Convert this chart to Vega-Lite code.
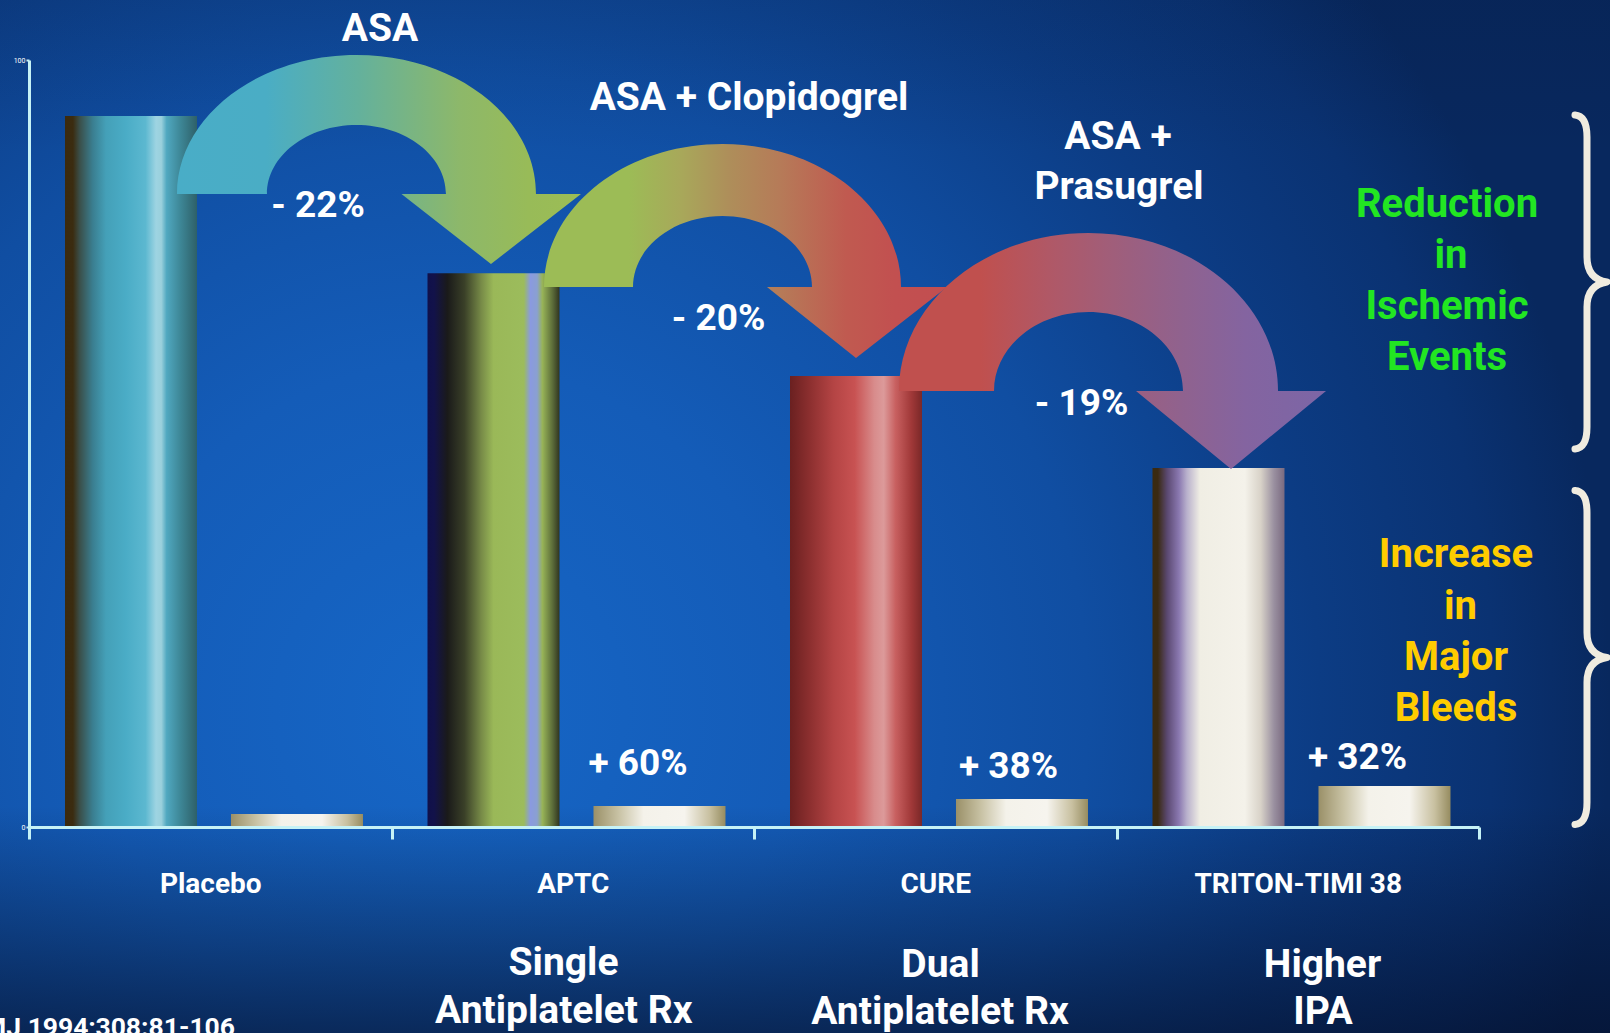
{
  "$schema": "https://vega.github.io/schema/vega-lite/v6.json",
  "width": 1610,
  "height": 1033,
  "autosize": "none",
  "padding": 0,
  "background": "#0c3d88",
  "config": {
    "view": {"stroke": null},
    "font": "Roboto, Liberation Sans, sans-serif"
  },
  "datasets": {
    "trials": [
      {"study": "Placebo", "type": "Ischemic", "value": 92.7},
      {"study": "Placebo", "type": "Bleeding", "value": 1.7},
      {"study": "APTC", "type": "Ischemic", "value": 72.2},
      {"study": "APTC", "type": "Bleeding", "value": 2.74},
      {"study": "CURE", "type": "Ischemic", "value": 58.8},
      {"study": "CURE", "type": "Bleeding", "value": 3.65},
      {"study": "TRITON-TIMI 38", "type": "Ischemic", "value": 46.8},
      {"study": "TRITON-TIMI 38", "type": "Bleeding", "value": 5.35}
    ],
    "notes": [
      {"kind": "arrow1", "label": "ASA", "u": 0.9034, "v": 82.53},
      {"kind": "arrow2", "label": "ASA + Clopidogrel", "u": 1.9131, "v": 70.40},
      {"kind": "arrow3", "label": "ASA + Prasugrel", "u": 2.9228, "v": 56.85},
      {"kind": "brace", "label": "ischemic", "u": 4.2979, "v": 71.06},
      {"kind": "brace", "label": "bleeding", "u": 4.2979, "v": 22.10},
      {"kind": "title", "label": "ASA", "u": 0.9683, "v": 102.48},
      {"kind": "title", "label": "ASA  + Clopidogrel", "u": 1.9862, "v": 93.48},
      {"kind": "title", "label": "ASA +", "u": 3.0041, "v": 88.40},
      {"kind": "title", "label": "Prasugrel", "u": 3.0069, "v": 81.88},
      {"kind": "title", "label": "Single", "u": 1.4745, "v": -19.30},
      {"kind": "title", "label": "Antiplatelet Rx", "u": 1.4752, "v": -25.55},
      {"kind": "title", "label": "Dual", "u": 2.5145, "v": -19.56},
      {"kind": "title", "label": "Antiplatelet Rx", "u": 2.5131, "v": -25.72},
      {"kind": "title", "label": "Higher", "u": 3.5683, "v": -19.56},
      {"kind": "title", "label": "IPA", "u": 3.5697, "v": -25.72},
      {"kind": "pct", "label": "- 22%", "u": 0.7972, "v": 79.53},
      {"kind": "pct", "label": "- 20%", "u": 1.9021, "v": 64.80},
      {"kind": "pct", "label": "- 19%", "u": 2.9034, "v": 53.72},
      {"kind": "pct", "label": "+ 60%", "u": 1.68, "v": 6.78},
      {"kind": "pct", "label": "+ 38%", "u": 2.702, "v": 6.39},
      {"kind": "pct", "label": "+ 32%", "u": 3.6648, "v": 7.56},
      {"kind": "green", "label": "Reduction", "u": 3.9117, "v": 79.53},
      {"kind": "green", "label": "in", "u": 3.9228, "v": 72.88},
      {"kind": "green", "label": "Ischemic", "u": 3.9117, "v": 66.23},
      {"kind": "green", "label": "Events", "u": 3.9117, "v": 59.58},
      {"kind": "gold", "label": "Increase", "u": 3.9366, "v": 33.90},
      {"kind": "gold", "label": "in", "u": 3.9490, "v": 27.18},
      {"kind": "gold", "label": "Major", "u": 3.9366, "v": 20.47},
      {"kind": "gold", "label": "Bleeds", "u": 3.9366, "v": 13.82},
      {"kind": "cite", "label": "BMJ 1994;308:81-106", "u": 0.5683, "v": -27.25}
    ]
  },
  "layer": [
    {
      "data": {"values": [{"id": 1}]},
      "layer": [
        {
          "mark": {"type": "rect", "fill": {"gradient": "radial", "x1": 0.28, "y1": 0.62, "r1": 0, "x2": 0.28, "y2": 0.62, "r2": 0.72,
            "stops": [
              {"offset": 0, "color": "#1666c6"},
              {"offset": 0.3, "color": "#145cb8"},
              {"offset": 0.55, "color": "#104ea2"},
              {"offset": 0.75, "color": "#0c3c84"},
              {"offset": 0.9, "color": "#0a3272"},
              {"offset": 1, "color": "#08285e"}
            ]}},
          "encoding": {}
        },
        {
          "mark": {"type": "rect", "fill": {"gradient": "linear", "x1": 0, "y1": 0, "x2": 0, "y2": 1,
            "stops": [
              {"offset": 0, "color": "rgba(4,14,40,0.1)"},
              {"offset": 0.15, "color": "rgba(4,14,40,0)"},
              {"offset": 0.78, "color": "rgba(4,14,40,0)"},
              {"offset": 0.9, "color": "rgba(4,14,40,0.35)"},
              {"offset": 1, "color": "rgba(4,14,40,0.65)"}
            ]}},
          "encoding": {}
        }
      ]
    },
    {
      "data": {"name": "trials"},
      "encoding": {
        "x": {
          "field": "study", "type": "nominal",
          "scale": {"domain": ["Placebo", "APTC", "CURE", "TRITON-TIMI 38"], "range": [29, 1479], "paddingInner": 0, "paddingOuter": 0},
          "axis": {
            "title": null, "offset": -206, "domainColor": "#c6f2f6", "domainWidth": 3,
            "tickColor": "#c6f2f6", "tickWidth": 3, "tickSize": 12, "tickBand": "extent",
            "labelColor": "white", "labelFontSize": 28, "labelFontWeight": "bold", "labelLimit": 0,
            "labelBaseline": "alphabetic", "labelPadding": 53, "labelAngle": 0, "zindex": 1
          }
        },
        "xOffset": {
          "field": "type", "type": "nominal",
          "scale": {"domain": ["Ischemic", "Bleeding"], "paddingInner": 0.2048, "paddingOuter": 0.1943, "align": 0.558}
        },
        "y": {
          "field": "value", "type": "quantitative",
          "scale": {"domain": [0, 100], "range": [827, 60], "nice": false, "zero": true},
          "axis": {
            "title": null, "values": [0, 100], "offset": -29, "domainColor": "#c6f2f6", "domainWidth": 3,
            "tickColor": "#c6f2f6", "tickWidth": 2, "tickSize": 3, "labelColor": "white",
            "labelFontSize": 7, "labelPadding": 1, "grid": false, "zindex": 1
          }
        }
      },
      "layer": [
        {
          "transform": [{"filter": "datum.study == 'Placebo' && datum.type == 'Ischemic'"}],
          "mark": {"type": "bar", "color": {"gradient": "linear", "x1": 0, "y1": 0, "x2": 1, "y2": 0, "stops": [
            {"offset": 0, "color": "#3b2a0e"}, {"offset": 0.06, "color": "#3b2c10"}, {"offset": 0.11, "color": "#3a4e48"},
            {"offset": 0.21, "color": "#3a7e90"}, {"offset": 0.31, "color": "#44a0b8"}, {"offset": 0.46, "color": "#4aacc6"},
            {"offset": 0.61, "color": "#5cb8d0"}, {"offset": 0.69, "color": "#9ed4e2"}, {"offset": 0.73, "color": "#9ad0dc"},
            {"offset": 0.77, "color": "#50a8c0"}, {"offset": 0.87, "color": "#3e8898"}, {"offset": 1, "color": "#2e6068"}]}}
        },
        {
          "transform": [{"filter": "datum.study == 'APTC' && datum.type == 'Ischemic'"}],
          "mark": {"type": "bar", "color": {"gradient": "linear", "x1": 0, "y1": 0, "x2": 1, "y2": 0, "stops": [
            {"offset": 0, "color": "#10104a"}, {"offset": 0.05, "color": "#12124a"}, {"offset": 0.15, "color": "#1a1a1a"},
            {"offset": 0.28, "color": "#3a4028"}, {"offset": 0.41, "color": "#788c48"}, {"offset": 0.5, "color": "#9ab858"},
            {"offset": 0.73, "color": "#9cbc5c"}, {"offset": 0.78, "color": "#8a9ae0"}, {"offset": 0.83, "color": "#8aa0d0"},
            {"offset": 0.87, "color": "#98b458"}, {"offset": 0.95, "color": "#5a6a38"}, {"offset": 1, "color": "#303420"}]}}
        },
        {
          "transform": [{"filter": "datum.study == 'CURE' && datum.type == 'Ischemic'"}],
          "mark": {"type": "bar", "color": {"gradient": "linear", "x1": 0, "y1": 0, "x2": 1, "y2": 0, "stops": [
            {"offset": 0, "color": "#6a2020"}, {"offset": 0.14, "color": "#8a2e2e"}, {"offset": 0.33, "color": "#b44444"},
            {"offset": 0.49, "color": "#c85252"}, {"offset": 0.64, "color": "#d88c8c"}, {"offset": 0.71, "color": "#dc9a9a"},
            {"offset": 0.8, "color": "#c86060"}, {"offset": 0.92, "color": "#a03838"}, {"offset": 1, "color": "#7a2828"}]}}
        },
        {
          "transform": [{"filter": "datum.study == 'TRITON-TIMI 38' && datum.type == 'Ischemic'"}],
          "mark": {"type": "bar", "color": {"gradient": "linear", "x1": 0, "y1": 0, "x2": 1, "y2": 0, "stops": [
            {"offset": 0, "color": "#3a2a10"}, {"offset": 0.04, "color": "#3a2a12"}, {"offset": 0.11, "color": "#5a4870"},
            {"offset": 0.2, "color": "#8a78b0"}, {"offset": 0.26, "color": "#b8b0cc"}, {"offset": 0.36, "color": "#f0eee4"},
            {"offset": 0.7, "color": "#f4f2ea"}, {"offset": 0.82, "color": "#d8d2c8"}, {"offset": 0.92, "color": "#9a90a0"},
            {"offset": 1, "color": "#7a6a80"}]}}
        },
        {
          "transform": [{"filter": "datum.type == 'Bleeding'"}],
          "mark": {"type": "bar", "color": {"gradient": "linear", "x1": 0, "y1": 0, "x2": 1, "y2": 0, "stops": [
            {"offset": 0, "color": "#9a9068"}, {"offset": 0.19, "color": "#c8c2a4"}, {"offset": 0.38, "color": "#f4f2ea"},
            {"offset": 0.69, "color": "#f6f4ee"}, {"offset": 0.88, "color": "#c8c0a0"}, {"offset": 1, "color": "#968c60"}]}}
        }
      ]
    },
    {
      "data": {"name": "notes"},
      "encoding": {
        "x": {"field": "u", "type": "quantitative", "scale": {"domain": [0, 4], "range": [29, 1479], "nice": false, "zero": false}, "axis": null},
        "y": {"field": "v", "type": "quantitative", "scale": {"domain": [0, 100], "range": [827, 60], "nice": false, "zero": true}, "axis": null}
      },
      "layer": [
        {
          "transform": [{"filter": "datum.kind == 'arrow1'"}],
          "mark": {"type": "point", "size": 4, "filled": true, "opacity": 1, "strokeWidth": 0,
            "shape": "M -179.5 0 A 179.5 139 0 0 1 179.5 0 L 224.5 0 L 134.5 70 L 45 0 L 89.5 0 A 89.5 69 0 0 0 -89.5 0 Z",
            "fill": {"gradient": "linear", "x1": 0, "y1": 0, "x2": 1, "y2": 0, "stops": [
              {"offset": 0, "color": "#49adc7"}, {"offset": 0.22, "color": "#4aadc5"}, {"offset": 0.45, "color": "#64b19c"},
              {"offset": 0.7, "color": "#8db86a"}, {"offset": 0.87, "color": "#98bb58"}, {"offset": 1, "color": "#9cbd55"}]}}
        },
        {
          "transform": [{"filter": "datum.kind == 'arrow2'"}],
          "mark": {"type": "point", "size": 4, "filled": true, "opacity": 1, "strokeWidth": 0,
            "shape": "M -178.5 0 A 178.5 143 0 0 1 178.5 0 L 224.5 0 L 133.5 71 L 44.5 0 L 89.5 0 A 89.5 71 0 0 0 -89.5 0 Z",
            "fill": {"gradient": "linear", "x1": 0, "y1": 0, "x2": 1, "y2": 0, "stops": [
              {"offset": 0, "color": "#9cbc56"}, {"offset": 0.21, "color": "#9cbc56"}, {"offset": 0.34, "color": "#a8a85a"},
              {"offset": 0.46, "color": "#ae8e5a"}, {"offset": 0.59, "color": "#b67a58"}, {"offset": 0.75, "color": "#c05a50"},
              {"offset": 0.87, "color": "#c25050"}, {"offset": 1, "color": "#c24e50"}]}}
        },
        {
          "transform": [{"filter": "datum.kind == 'arrow3'"}],
          "mark": {"type": "point", "size": 4, "filled": true, "opacity": 1, "strokeWidth": 0,
            "shape": "M -189.5 0 A 189.5 158 0 0 1 189.5 0 L 237.5 0 L 142.5 78 L 47.5 0 L 94.5 0 A 94.5 79 0 0 0 -94.5 0 Z",
            "fill": {"gradient": "linear", "x1": 0, "y1": 0, "x2": 1, "y2": 0, "stops": [
              {"offset": 0, "color": "#c0504e"}, {"offset": 0.19, "color": "#c0504e"}, {"offset": 0.35, "color": "#b05866"},
              {"offset": 0.5, "color": "#a05e7a"}, {"offset": 0.66, "color": "#90628e"}, {"offset": 0.81, "color": "#8464a0"},
              {"offset": 1, "color": "#7c66a6"}]}}
        },
        {
          "transform": [{"filter": "datum.kind == 'brace'"}],
          "mark": {"type": "point", "size": 4, "filled": false, "opacity": 1, "stroke": "#f0ece0", "strokeWidth": 7,
            "strokeCap": "round", "strokeJoin": "round",
            "shape": "M -12 -167 Q 0 -166 0 -145 L 0 -25 Q 0 -3 20 0 Q 0 3 0 25 L 0 145 Q 0 166 -12 167"}
        },
        {
          "transform": [{"filter": "datum.kind == 'title'"}],
          "mark": {"type": "text", "color": "white", "fontSize": 39, "fontWeight": "bold", "align": "center", "baseline": "alphabetic"},
          "encoding": {"text": {"field": "label"}}
        },
        {
          "transform": [{"filter": "datum.kind == 'pct'"}],
          "mark": {"type": "text", "color": "white", "fontSize": 37, "fontWeight": "bold", "align": "center", "baseline": "alphabetic"},
          "encoding": {"text": {"field": "label"}}
        },
        {
          "transform": [{"filter": "datum.kind == 'green'"}],
          "mark": {"type": "text", "color": "#22e622", "fontSize": 40, "fontWeight": "bold", "align": "center", "baseline": "alphabetic"},
          "encoding": {"text": {"field": "label"}}
        },
        {
          "transform": [{"filter": "datum.kind == 'gold'"}],
          "mark": {"type": "text", "color": "#ffcc00", "fontSize": 40, "fontWeight": "bold", "align": "center", "baseline": "alphabetic"},
          "encoding": {"text": {"field": "label"}}
        },
        {
          "transform": [{"filter": "datum.kind == 'cite'"}],
          "mark": {"type": "text", "color": "white", "fontSize": 26.5, "fontWeight": "bold", "align": "right", "baseline": "alphabetic"},
          "encoding": {"text": {"field": "label"}}
        }
      ]
    }
  ],
  "resolve": {"scale": {"x": "independent"}, "axis": {"x": "independent", "y": "independent"}}
}
